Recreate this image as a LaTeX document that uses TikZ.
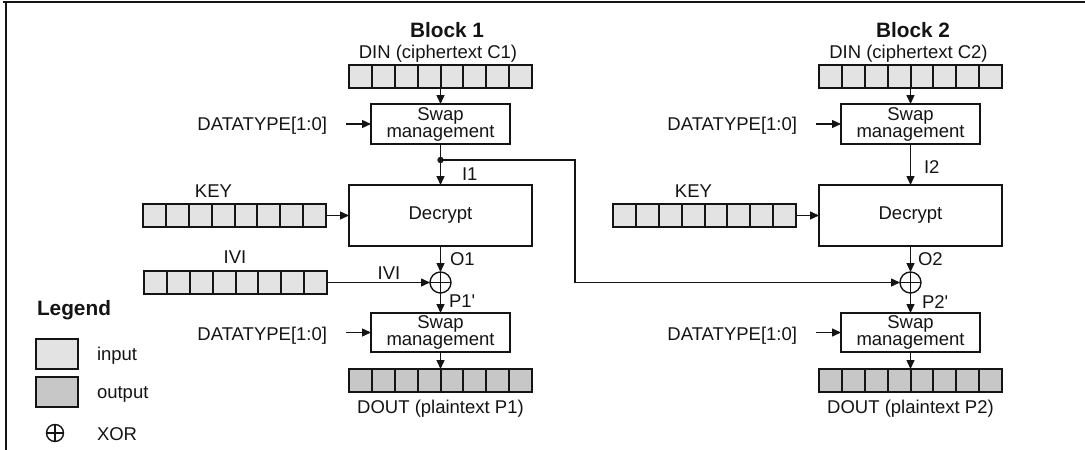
\documentclass[tikz,border=0pt]{standalone}
\usepackage{fontspec}
\setmainfont{Liberation Sans}
\newfontfamily\nomapfont{Liberation Sans}[Ligatures=TeXOff]
\usetikzlibrary{arrows.meta,calc}
\definecolor{inc}{gray}{0.89}
\definecolor{outc}{gray}{0.78}
\definecolor{ink}{gray}{0.08}
\newcommand\regcells[1]{\foreach \i in {1,...,7}{\draw[draw=ink,line width=2pt] ($(#1.north west)!\i/8!(#1.north east)$) -- ($(#1.south west)!\i/8!(#1.south east)$);}}
\newcommand\prm{{\nomapfont'}}
\begin{document}
\begin{tikzpicture}[x=1pt,y=-1pt,
  every node/.style={inner sep=0pt, outer sep=0pt, text=ink},
  txt/.style={font=\fontsize{18.5}{17}\selectfont},
  ttl/.style={font=\fontsize{20.8}{22}\selectfont\bfseries},
  box/.style={draw=ink, line width=2.2pt, fill=white, txt, align=center},
  reg/.style={draw=ink, line width=2.2pt, minimum width=183pt, minimum height=23pt},
  legbox/.style={draw=ink, line width=2.2pt, minimum width=42pt, minimum height=30pt},
  conn/.style={draw=ink, line width=1.4pt},
  arr/.style={conn, -{Triangle[length=9pt,width=8pt]}},
  xorc/.style={circle, draw=ink, line width=1.4pt, minimum size=21pt},
]
\useasboundingbox (0,0) rectangle (1085,450);
% frame
\draw[ink, line width=2pt] (3,2) -- (1085,2);
\draw[ink, line width=2.2pt] (6,2) -- (6,450);

% ---------- Block 1 ----------
\node[ttl, anchor=base] (t1) at (447,37) {Block 1};
\node[txt, anchor=base] (din1l) at (438,58) {DIN (ciphertext C1)};
\node[reg, fill=inc] (din1) at (440.5,76.5) {};
\regcells{din1}
\node[box, minimum width=139pt, minimum height=40pt] (sw1) at (440.5,124) {Swap\\management};
\node[txt, anchor=base east] (dt1) at (327,130) {DATATYPE[1:0]};
\coordinate (dot1) at (440.5,160);
\node[box, minimum width=183pt, minimum height=61pt] (dec1) at (440.5,215.5) {Decrypt};
\node[txt, anchor=base west] (i1) at (462,180) {I1};
\node[txt, anchor=base] (keyl1) at (213.5,197) {KEY};
\node[reg, fill=inc] (key1) at (234.5,215.5) {};
\regcells{key1}
\node[xorc] (x1) at (440.5,282.5) {};
\node[txt, anchor=base west] (o1) at (450,265) {O1};
\node[txt, anchor=base] (ivl1) at (235,263) {IVI};
\node[reg, fill=inc] (iv1) at (235.5,282.5) {};
\regcells{iv1}
\node[txt, anchor=base] (ivm1) at (389,279) {IVI};
\node[txt, anchor=base west] (p1) at (449,307) {P1\prm};
\node[box, minimum width=139pt, minimum height=39pt] (sw3) at (440.5,332.5) {Swap\\management};
\node[txt, anchor=base east] (dt3) at (327,340) {DATATYPE[1:0]};
\node[reg, fill=outc] (dout1) at (440.5,380.5) {};
\regcells{dout1}
\node[txt, anchor=base] (doutl1) at (440.5,413) {DOUT (plaintext P1)};

% ---------- Block 2 ----------
\node[ttl, anchor=base] (t2) at (913,37) {Block 2};
\node[txt, anchor=base] (din2l) at (908.5,58) {DIN (ciphertext C2)};
\node[reg, fill=inc] (din2) at (910.5,76.5) {};
\regcells{din2}
\node[box, minimum width=139pt, minimum height=40pt] (sw2) at (910.5,124) {Swap\\management};
\node[txt, anchor=base east] (dt2) at (797,130) {DATATYPE[1:0]};
\node[box, minimum width=183pt, minimum height=61pt] (dec2) at (910.5,215.5) {Decrypt};
\node[txt, anchor=base west] (i2) at (924,173) {I2};
\node[txt, anchor=base] (keyl2) at (693.5,197) {KEY};
\node[reg, fill=inc] (key2) at (704.5,215.5) {};
\regcells{key2}
\node[xorc] (x2) at (910.5,282.5) {};
\node[txt, anchor=base west] (o2) at (918,265) {O2};
\node[txt, anchor=base west] (p2) at (922,308) {P2\prm};
\node[box, minimum width=139pt, minimum height=39pt] (sw4) at (910.5,332.5) {Swap\\management};
\node[txt, anchor=base east] (dt4) at (797,340) {DATATYPE[1:0]};
\node[reg, fill=outc] (dout2) at (910.5,380.5) {};
\regcells{dout2}
\node[txt, anchor=base] (doutl2) at (910.5,413) {DOUT (plaintext P2)};

% XOR crosses
\foreach \x in {x1,x2}{\draw[conn] (\x.north) -- (\x.south) (\x.west) -- (\x.east);}

% ---------- connectors block 1 ----------
\draw[arr] (din1.south) -- (sw1.north);
\draw[arr] ($(dt1.east |- sw1.west)+(19,0)$) -- (sw1.west);
\draw[arr] (sw1.south) -- (dec1.north);
\fill[ink] (dot1) circle (3.2);
\coordinate (bend) at (575,160);
\draw[arr] (dot1) -- (bend) |- (x2.west);
\draw[arr] (key1.east) -- (dec1.west);
\draw[arr] (dec1.south) -- (x1.north);
\draw[arr] (iv1.east) -- (x1.west);
\draw[arr] (x1.south) -- (sw3.north);
\draw[arr] ($(dt3.east |- sw3.west)+(19,0)$) -- (sw3.west);
\draw[arr] (sw3.south) -- (dout1.north);

% ---------- connectors block 2 ----------
\draw[arr] (din2.south) -- (sw2.north);
\draw[arr] ($(dt2.east |- sw2.west)+(19,0)$) -- (sw2.west);
\draw[arr] (sw2.south) -- (dec2.north);
\draw[arr] (key2.east) -- (dec2.west);
\draw[arr] (dec2.south) -- (x2.north);
\draw[arr] (x2.south) -- (sw4.north);
\draw[arr] ($(dt4.east |- sw4.west)+(19,0)$) -- (sw4.west);
\draw[arr] (sw4.south) -- (dout2.north);

% ---------- Legend ----------
\node[ttl, anchor=base west] (leg) at (37,315) {Legend};
\node[legbox, fill=inc] (lin) at (57,354) {};
\node[txt, anchor=base west] (linl) at (97,360) {input};
\node[legbox, fill=outc] (lout) at (57,392) {};
\node[txt, anchor=base west] (loutl) at (97,398) {output};
\node[xorc, minimum size=17pt] (lx) at (55,433) {};
\draw[conn] (lx.north) -- (lx.south) (lx.west) -- (lx.east);
\node[txt, anchor=base west] (lxl) at (97,440) {XOR};
\end{tikzpicture}
\end{document}
